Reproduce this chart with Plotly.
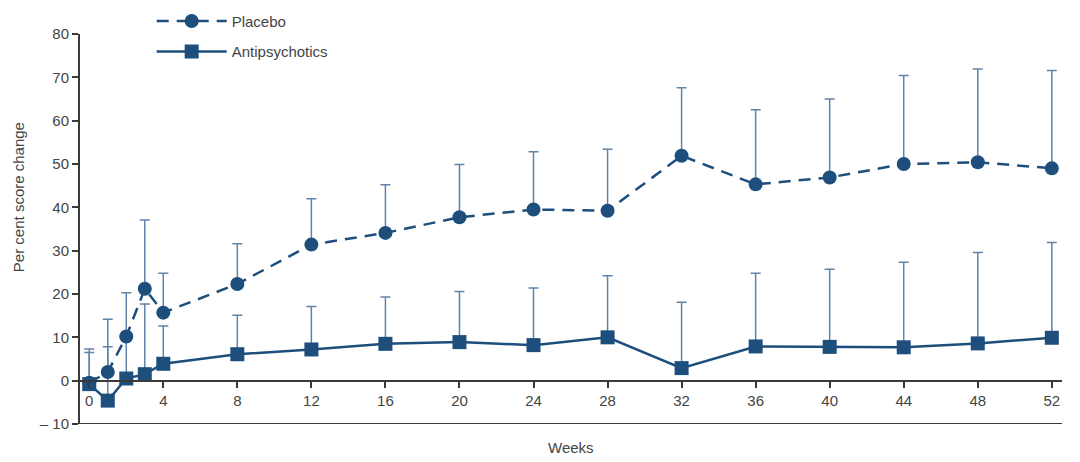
import plotly.graph_objects as go

weeks = [0, 1, 2, 3, 4, 8, 12, 16, 20, 24, 28, 32, 36, 40, 44, 48, 52]
placebo = [-0.5, 2.0, 10.2, 21.2, 15.7, 22.3, 31.4, 34.1, 37.7, 39.5, 39.2, 51.9, 45.3, 46.9, 50.0, 50.4, 49.0]
placebo_upper = [7.3, 14.2, 20.3, 37.1, 24.8, 31.6, 42.0, 45.2, 49.9, 52.8, 53.4, 67.6, 62.5, 65.0, 70.4, 71.9, 71.6]
antipsych = [-0.8, -4.6, 0.5, 1.5, 3.9, 6.1, 7.2, 8.5, 8.9, 8.2, 10.0, 2.9, 7.9, 7.8, 7.7, 8.6, 9.9]
antipsych_upper = [6.5, 7.8, 10.0, 17.7, 12.6, 15.1, 17.1, 19.3, 20.6, 21.4, 24.2, 18.1, 24.8, 25.7, 27.3, 29.6, 31.9]

x_ticks = [0, 4, 8, 12, 16, 20, 24, 28, 32, 36, 40, 44, 48, 52]
y_ticks = [-10, 0, 10, 20, 30, 40, 50, 60, 70, 80]
y_ticktext = ["\u2013 10", "0", "10", "20", "30", "40", "50", "60", "70", "80"]

LINE = "#1d4e7c"
ERR = "#5f84a8"
AX = "#3a3a3a"
TXT = "#444444"
FONT = "Liberation Sans, Arial, sans-serif"

fig = go.Figure()

fig.add_trace(go.Scatter(
    x=weeks, y=antipsych, name="Antipsychotics", legendgroup="a", legendrank=2,
    mode="lines+markers",
    line=dict(color=LINE, width=2.5),
    marker=dict(symbol="square", size=14, color=LINE),
    error_y=dict(type="data", symmetric=False,
                 array=[u - v for u, v in zip(antipsych_upper, antipsych)],
                 arrayminus=[0] * len(weeks),
                 color=ERR, thickness=1.5, width=5),
))
fig.add_trace(go.Scatter(
    x=weeks, y=placebo, name="Placebo", legendgroup="p", legendrank=1,
    mode="lines+markers",
    line=dict(color=LINE, width=2.5, dash="12px,8px"),
    marker=dict(symbol="circle", size=14, color=LINE),
    error_y=dict(type="data", symmetric=False,
                 array=[u - v for u, v in zip(placebo_upper, placebo)],
                 arrayminus=[0] * len(weeks),
                 color=ERR, thickness=1.5, width=5),
))

fig.update_layout(
    width=1072, height=454,
    margin=dict(l=72, r=18, t=26, b=38, autoexpand=False),
    paper_bgcolor="white", plot_bgcolor="white",
    font=dict(family=FONT, size=15, color=TXT),
    showlegend=True,
    legend=dict(x=0.073, y=1.075, xanchor="left", yanchor="top",
                bgcolor="rgba(0,0,0,0)", font=dict(size=15, color=TXT),
                tracegroupgap=8, itemwidth=70, traceorder="grouped"),
    xaxis=dict(range=[-0.5, 52.55], tickvals=x_ticks, ticks="outside", ticklen=6,
               tickcolor=AX, tickwidth=1.5, showline=True, linecolor=AX, linewidth=2,
               showgrid=False, zeroline=False, anchor="free", position=10/90,
               tickfont=dict(size=15, color=TXT)),
    yaxis=dict(range=[-10, 80], tickvals=y_ticks, ticktext=y_ticktext, ticks="outside",
               ticklen=6, tickcolor=AX, tickwidth=1.5, showline=True, linecolor=AX,
               linewidth=2, showgrid=False, zeroline=False,
               tickfont=dict(size=15, color=TXT)),
    shapes=[dict(type="line", xref="paper", yref="y", x0=0, x1=1, y0=-10, y1=-10,
                 line=dict(color=AX, width=2))],
    annotations=[
        dict(text="Weeks", xref="paper", yref="paper", x=0.5, y=-0.059,
             xanchor="center", yanchor="middle", showarrow=False,
             font=dict(size=15, color=TXT)),
        dict(text="Per cent score change", xref="paper", yref="paper", x=-0.063, y=0.582,
             xanchor="center", yanchor="middle", textangle=-90, showarrow=False,
             font=dict(size=15, color=TXT)),
    ],
)

fig.write_html("out.html")
